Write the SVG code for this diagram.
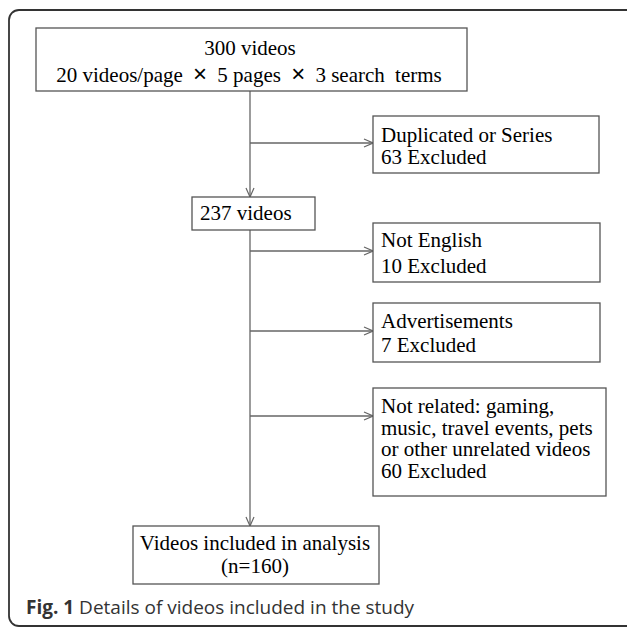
<svg xmlns="http://www.w3.org/2000/svg" width="627" height="628" viewBox="0 0 627 628">
<defs>
<style>
.box{fill:#fff;stroke:#555;stroke-width:1.3}
.t{font-family:"Liberation Serif","Times New Roman",serif;font-size:21px;fill:#000}
.x{font-family:"Liberation Sans","Arial",sans-serif;font-size:24px}
.c{stroke:#666;stroke-width:1.3;fill:none}
.cap{font-family:"Open Sans","Noto Sans",sans-serif;font-size:19px;fill:#333}
</style>
<marker id="arr" viewBox="0 0 10 10" refX="10" refY="5" markerWidth="10" markerHeight="10" markerUnits="userSpaceOnUse" orient="auto">
<path d="M1,1 L10,5 L1,9" fill="none" stroke="#666" stroke-width="1.2"/>
</marker>
</defs>
<rect x="0" y="0" width="627" height="628" fill="#fff"/>
<rect id="frame" x="9" y="10" width="660" height="616" rx="10" fill="none" stroke="#333" stroke-width="1.8"/>
<g id="connectors">
<line class="c" x1="250" y1="91" x2="250" y2="197" marker-end="url(#arr)"/>
<line class="c" x1="250" y1="143" x2="373" y2="143" marker-end="url(#arr)"/>
<line class="c" x1="250" y1="230" x2="250" y2="526" marker-end="url(#arr)"/>
<line class="c" x1="250" y1="251" x2="373" y2="251" marker-end="url(#arr)"/>
<line class="c" x1="250" y1="331" x2="373" y2="331" marker-end="url(#arr)"/>
<line class="c" x1="250" y1="416" x2="373" y2="416" marker-end="url(#arr)"/>
</g>
<g id="n-top">
<rect class="box" x="36" y="28" width="431" height="63"/>
<text class="t" x="250" y="55" text-anchor="middle">300 videos</text>
<text class="t" x="249" y="82" text-anchor="middle">20 videos/page <tspan class="x" dx="5">×</tspan><tspan dx="5"> 5 pages </tspan><tspan class="x" dx="5">×</tspan><tspan dx="5"> 3 search </tspan><tspan dx="5">terms</tspan></text>
</g>
<g id="n-dup">
<rect class="box" x="373" y="116" width="226" height="57"/>
<text class="t" x="381" y="142">Duplicated or Series</text>
<text class="t" x="381" y="164">63 Excluded</text>
</g>
<g id="n-237">
<rect class="box" x="192" y="197" width="123" height="33"/>
<text class="t" x="200" y="220">237 videos</text>
</g>
<g id="n-eng">
<rect class="box" x="373" y="223" width="227" height="59"/>
<text class="t" x="381" y="247">Not English</text>
<text class="t" x="381" y="273">10 Excluded</text>
</g>
<g id="n-ads">
<rect class="box" x="373" y="303" width="227" height="59"/>
<text class="t" x="381" y="328">Advertisements</text>
<text class="t" x="381" y="352">7 Excluded</text>
</g>
<g id="n-rel">
<rect class="box" x="373" y="388" width="233" height="108"/>
<text class="t" x="381" y="413">Not related: gaming,</text>
<text class="t" x="381" y="435">music, travel events, pets</text>
<text class="t" x="381" y="456">or other unrelated videos</text>
<text class="t" x="381" y="478">60 Excluded</text>
</g>
<g id="n-final">
<rect class="box" x="133" y="526" width="246" height="58"/>
<text class="t" x="255" y="550" text-anchor="middle">Videos included in analysis</text>
<text class="t" x="255" y="573" text-anchor="middle">(n=160)</text>
</g>
<text class="cap" x="26" y="614"><tspan font-weight="bold">Fig. 1</tspan> Details of videos included in the study</text>
</svg>
